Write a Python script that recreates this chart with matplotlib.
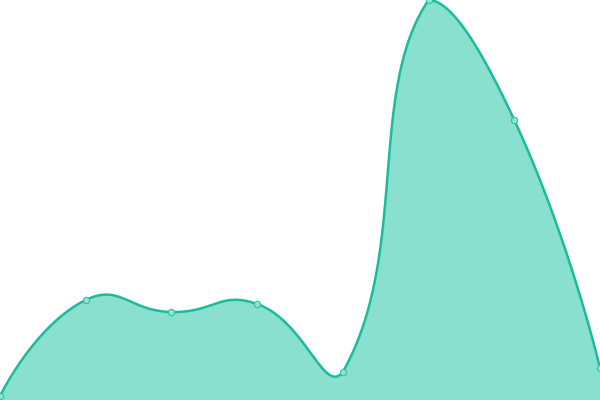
import numpy as np
import matplotlib
matplotlib.use("Agg")
import matplotlib.pyplot as plt

categories = ["A", "B", "C", "D", "E", "F", "G", "H"]
values = [1, 25, 22, 24, 7, 100, 70, 8]

W, H = 600, 400
fig = plt.figure(figsize=(6, 4), dpi=100)
ax = fig.add_axes([0, 0, 1, 1])
n = len(values)
ax.set_xlim(0, n - 1)
ax.set_ylim(0, 100)
ax.axis("off")

# pixel-space coordinates for smoothing
sx = W / (n - 1)
sy = H / 100.0
P = np.array([[i * sx, v * sy] for i, v in enumerate(values)])
smooth = 0.5
ymin, ymax = P[:, 1].min(), P[:, 1].max()
xmin, xmax = P[:, 0].min(), P[:, 0].max()

cps_out = []
cps_in = []
for i in range(n):
    p = P[i]
    if i == 0 or i == n - 1:
        cps_out.append(p.copy())
        cps_in.append(p.copy())
        continue
    prev, nxt = P[i - 1], P[i + 1]
    v = nxt - prev
    d0 = np.hypot(*(p - prev))
    d1 = np.hypot(*(nxt - p))
    r = d1 / (d0 + d1)
    co = p + v * smooth * r
    ci = p - v * smooth * (1 - r)
    co = np.array([np.clip(co[0], xmin, xmax), np.clip(co[1], ymin, ymax)])
    ci = np.array([np.clip(ci[0], xmin, xmax), np.clip(ci[1], ymin, ymax)])
    cps_out.append(co)
    cps_in.append(ci)

pts = []
t = np.linspace(0, 1, 60)[:, None]
for i in range(n - 1):
    p0, p3 = P[i], P[i + 1]
    p1, p2 = cps_out[i], cps_in[i + 1]
    seg = (1 - t) ** 3 * p0 + 3 * (1 - t) ** 2 * t * p1 + 3 * (1 - t) * t ** 2 * p2 + t ** 3 * p3
    pts.append(seg if i == 0 else seg[1:])
curve = np.vstack(pts)
cx = curve[:, 0] / sx
cy = curve[:, 1] / sy

line_color = "#1abc9c"
fill_color = "#8ae0cf"
ax.fill_between(cx, 0, cy, color=fill_color, linewidth=0)
ax.plot(cx, cy, color=line_color, linewidth=1.8, solid_capstyle="round")
ax.plot(range(n), values, linestyle="none", marker="o", markersize=4.5,
        markerfacecolor="#93e3d3", markeredgecolor="#2cc3a5", markeredgewidth=0.8)

fig.savefig("out.png", dpi=100)
